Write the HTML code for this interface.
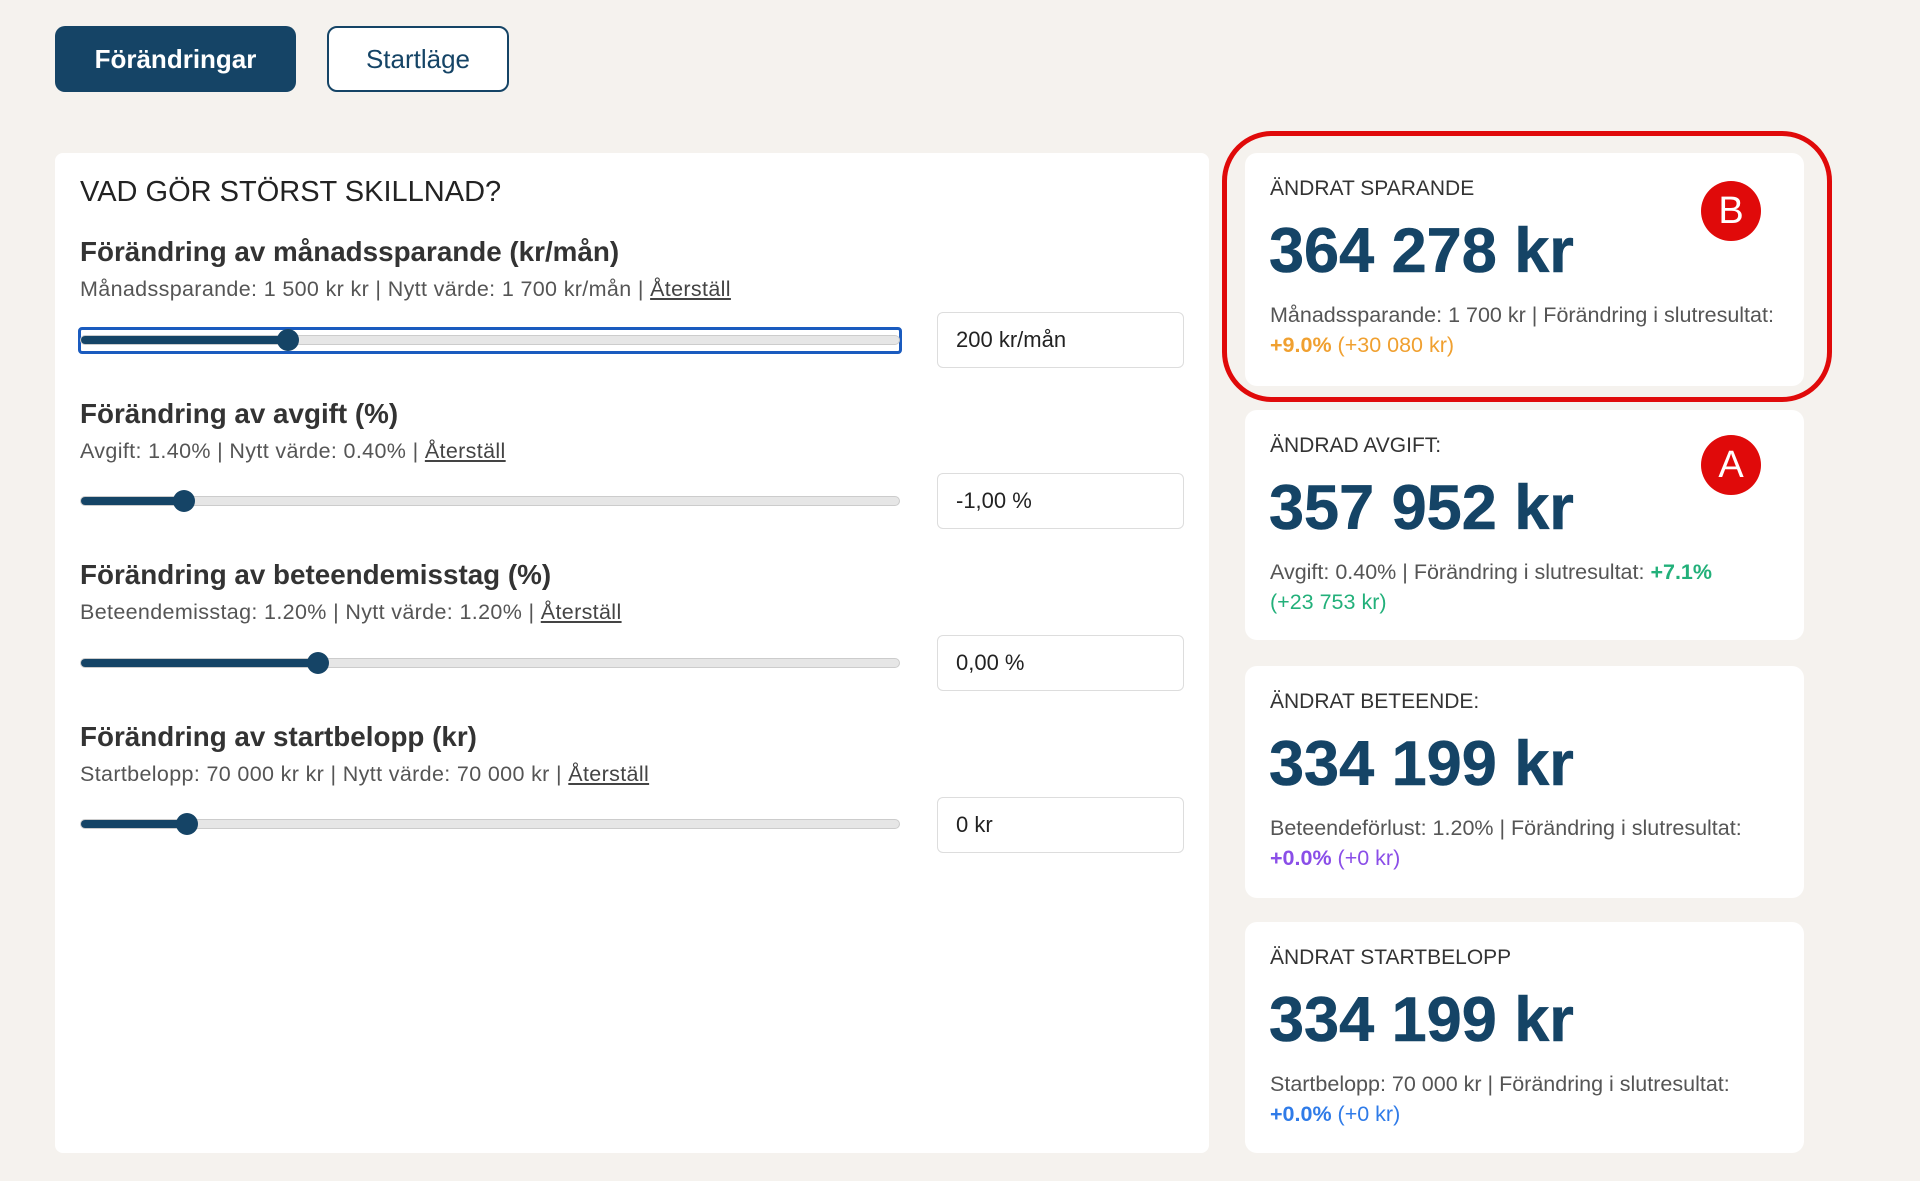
<!DOCTYPE html>
<html><head><meta charset="utf-8">
<style>
*{margin:0;padding:0;box-sizing:border-box}
body{width:1920px;height:1181px;background:#f5f2ee;font-family:"Liberation Sans",sans-serif;position:relative;overflow:hidden;color:#333}
.abs{position:absolute}
.btn{position:absolute;top:26px;height:66px;border-radius:10px;font-size:26px;display:flex;align-items:center;justify-content:center}
.b1{left:55px;width:241px;background:#154466;color:#fff;font-weight:bold}
.b2{left:327px;width:182px;border:2px solid #154466;color:#154466;background:#fff}
.panel{position:absolute;left:55px;top:153px;width:1154px;height:1000px;background:#fff;border-radius:8px}
.title{left:80px;top:176px;font-size:29px;color:#222}
.h{left:80px;font-size:27.8px;font-weight:bold;color:#333}
.sub{left:80px;font-size:21.5px;letter-spacing:0.35px;color:#555}
.sub u{color:#444}
.track{left:80px;width:820px;height:10px;background:#e6e6e6;border:1px solid #ccc;border-radius:5px}
.fill{height:100%;background:#154466;border-radius:5px}
.thumb{width:22px;height:22px;border-radius:50%;background:#154466}
.inp{left:937px;width:247px;height:56px;border:1px solid #ddd;border-radius:6px;font-size:22px;padding-left:18px;display:flex;align-items:center;color:#222;background:#fff}
.card{position:absolute;left:1245px;width:559px;background:#fff;border-radius:12px}
.lbl{position:absolute;left:25px;top:24px;font-size:21px;color:#333}
.big{position:absolute;left:24px;top:62px;font-size:63px;font-weight:bold;color:#154466;-webkit-text-stroke:0.6px #154466}
.sm{position:absolute;left:25px;top:147px;font-size:21.5px;line-height:30px;color:#555;width:520px}
.circ{position:absolute;width:60px;height:60px;border-radius:50%;background:#e00a0a;color:#fff;font-size:38px;display:flex;align-items:center;justify-content:center}
</style></head><body>
<div class="btn b1">Förändringar</div>
<div class="btn b2">Startläge</div>
<div class="panel"></div>
<div class="abs title">VAD GÖR STÖRST SKILLNAD?</div>

<div class="abs h" style="top:236px">Förändring av månadssparande (kr/mån)</div>
<div class="abs sub" style="top:277px">Månadssparande: 1 500 kr kr | Nytt värde: 1 700 kr/mån | <u>Återställ</u></div>
<div class="abs" style="left:78px;top:327px;width:824px;height:27px;border:3px solid #1a5bbf;border-radius:4px"></div>
<div class="abs track" style="top:335px"><div class="fill" style="width:210px"></div></div>
<div class="abs thumb" style="left:277px;top:329px"></div>
<div class="abs inp" style="top:312px">200 kr/mån</div>

<div class="abs h" style="top:398px">Förändring av avgift (%)</div>
<div class="abs sub" style="top:439px">Avgift: 1.40% | Nytt värde: 0.40% | <u>Återställ</u></div>
<div class="abs track" style="top:496px"><div class="fill" style="width:104px"></div></div>
<div class="abs thumb" style="left:173px;top:490px"></div>
<div class="abs inp" style="top:473px">-1,00 %</div>

<div class="abs h" style="top:559px">Förändring av beteendemisstag (%)</div>
<div class="abs sub" style="top:600px">Beteendemisstag: 1.20% | Nytt värde: 1.20% | <u>Återställ</u></div>
<div class="abs track" style="top:658px"><div class="fill" style="width:238px"></div></div>
<div class="abs thumb" style="left:307px;top:652px"></div>
<div class="abs inp" style="top:635px">0,00 %</div>

<div class="abs h" style="top:721px">Förändring av startbelopp (kr)</div>
<div class="abs sub" style="top:762px">Startbelopp: 70 000 kr kr | Nytt värde: 70 000 kr | <u>Återställ</u></div>
<div class="abs track" style="top:819px"><div class="fill" style="width:107px"></div></div>
<div class="abs thumb" style="left:176px;top:813px"></div>
<div class="abs inp" style="top:797px">0 kr</div>

<div class="card" style="top:153px;height:233px">
<div class="lbl">ÄNDRAT SPARANDE</div><div class="big">364 278 kr</div>
<div class="sm">Månadssparande: 1 700 kr | Förändring i slutresultat: <span style="color:#f0a030"><b>+9.0%</b> (+30 080 kr)</span></div></div>
<div class="card" style="top:410px;height:230px">
<div class="lbl">ÄNDRAD AVGIFT:</div><div class="big">357 952 kr</div>
<div class="sm">Avgift: 0.40% | Förändring i slutresultat: <span style="color:#22b07a"><b>+7.1%</b><br>(+23 753 kr)</span></div></div>
<div class="card" style="top:666px;height:232px">
<div class="lbl">ÄNDRAT BETEENDE:</div><div class="big">334 199 kr</div>
<div class="sm">Beteendeförlust: 1.20% | Förändring i slutresultat:<br><span style="color:#8a4ee8"><b>+0.0%</b> (+0 kr)</span></div></div>
<div class="card" style="top:922px;height:231px">
<div class="lbl">ÄNDRAT STARTBELOPP</div><div class="big">334 199 kr</div>
<div class="sm">Startbelopp: 70 000 kr | Förändring i slutresultat:<br><span style="color:#2f7be8"><b>+0.0%</b> (+0 kr)</span></div></div>

<div class="abs" style="left:1222px;top:131px;width:610px;height:271px;border:5px solid #e00a0a;border-radius:50px"></div>
<div class="circ" style="left:1701px;top:181px">B</div>
<div class="circ" style="left:1701px;top:435px">A</div>
</body></html>
